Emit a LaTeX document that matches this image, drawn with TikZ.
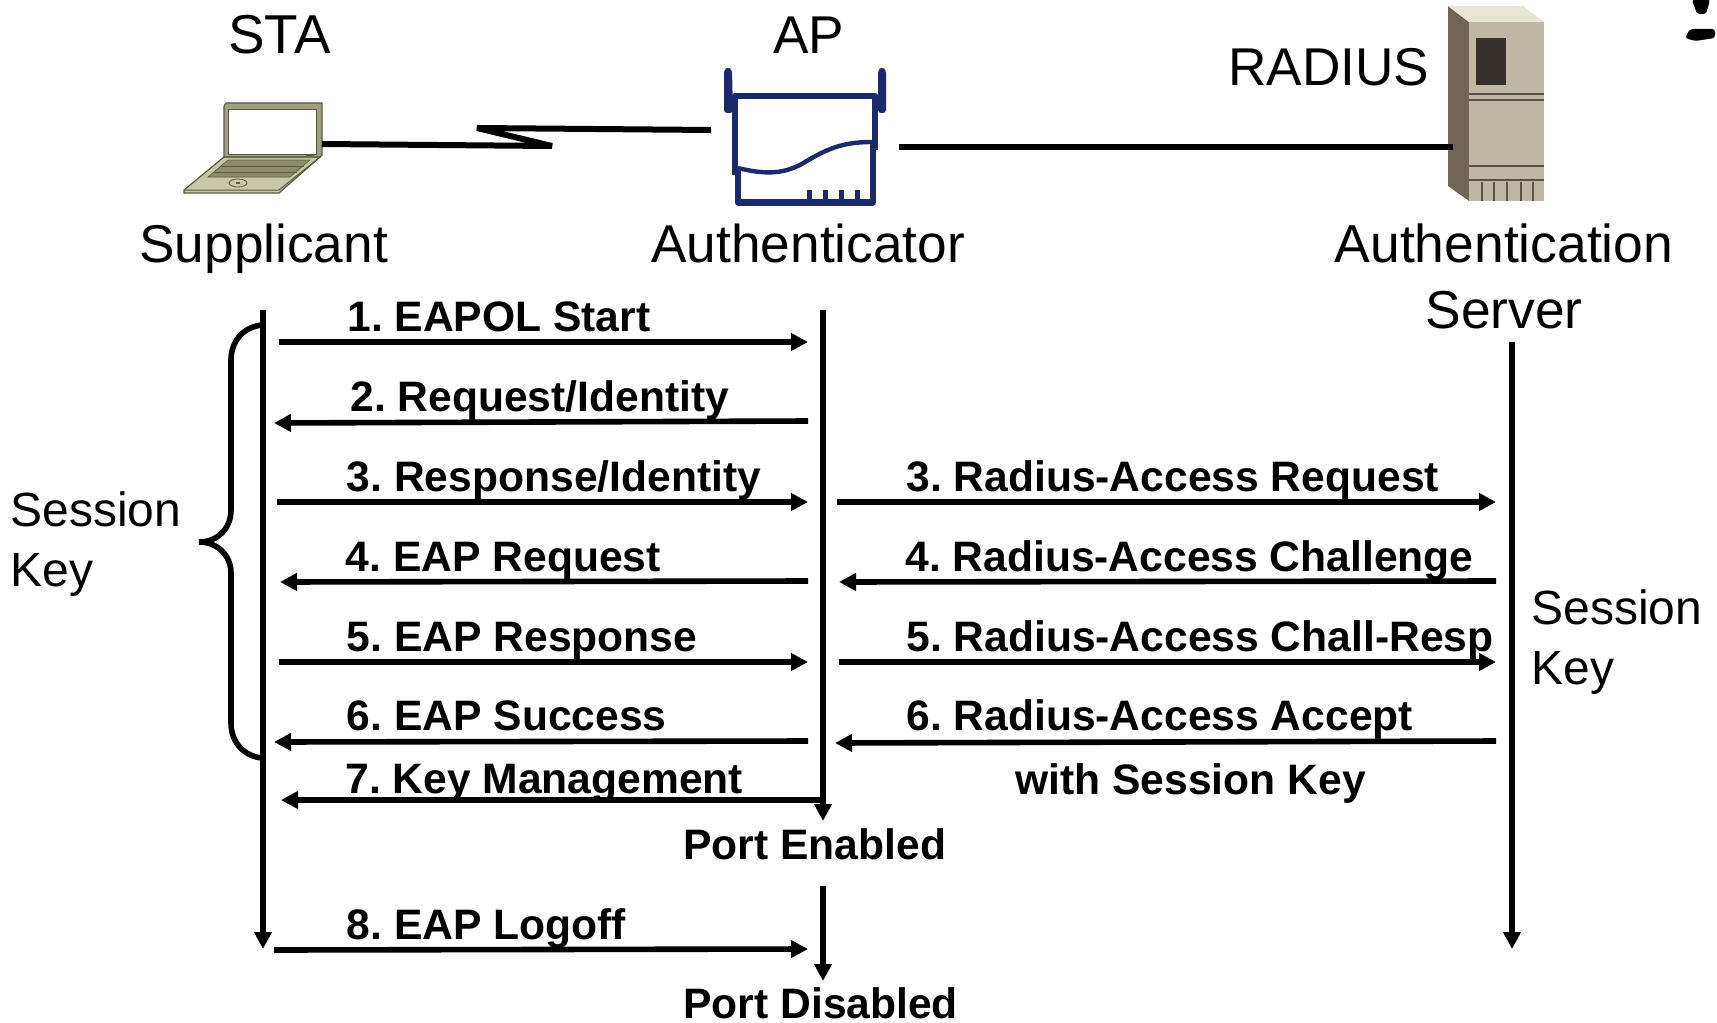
\documentclass[tikz,border=0pt]{standalone}
\usepackage{fontspec}
\setmainfont{Liberation Sans}
\usetikzlibrary{arrows.meta}
\definecolor{apblue}{HTML}{1B2A6B}
\definecolor{lapframe}{HTML}{A0A080}
\definecolor{lapbase}{HTML}{C8C8A8}
\definecolor{lapdark}{HTML}{5A5A40}
\definecolor{lapkeys}{HTML}{8C8C6C}
\definecolor{srvfront}{HTML}{BDB7A3}
\definecolor{srvside}{HTML}{6F6655}
\definecolor{srvtop}{HTML}{E8E6D0}
\definecolor{srvwin}{HTML}{35302A}
\definecolor{srvline}{HTML}{5A5245}
\tikzset{
  x=0.5pt,y=-0.5pt,
  toptext/.style={font=\fontsize{27.4pt}{30pt}\selectfont,inner sep=0pt,anchor=base west},
  bigtext/.style={font=\fontsize{26.6pt}{30pt}\selectfont,inner sep=0pt,anchor=base west},
  bigcenter/.style={font=\fontsize{26.7pt}{30pt}\selectfont,inner sep=0pt,anchor=base},
  sidetext/.style={font=\fontsize{24pt}{28pt}\selectfont,inner sep=0pt,anchor=base west},
  msg/.style={font=\fontsize{21.3pt}{25pt}\selectfont\bfseries\frenchspacing,inner sep=0pt,anchor=base west},
  wire/.style={line width=3pt,black},
  flow/.style={line width=2.8pt,black,-{Triangle[length=8.5pt,width=8.5pt]}},
  life/.style={line width=3pt,black,-{Triangle[length=8.5pt,width=8.5pt]}},
  brace/.style={line width=2.8pt,black},
  ap/.style={apblue,line width=3.2pt,line join=round}
}
\begin{document}
\begin{tikzpicture}
\useasboundingbox (0,0) rectangle (1717,1022);
% Titles
\node[toptext] (sta) at (228,54) {STA};
\node[bigtext] (aptxt) at (773,54) {AP};
\node[bigtext] (radius) at (1228,86) {RADIUS};
\node[bigtext] (supp) at (139,262) {Supplicant};
\node[bigtext] (auth) at (651,262) {Authenticator};
\node[bigcenter] (asrv1) at (1504,262) {Authentication};
\node[bigcenter] (asrv2) at (1504,328) {Server};
\node[sidetext] (skl1) at (10,526) {Session};
\node[sidetext] (skl2) at (10,586) {Key};
\node[sidetext] (skr1) at (1531,624) {Session};
\node[sidetext] (skr2) at (1531,684) {Key};
% Laptop
\fill[lapbase,draw=lapdark,line width=0.6pt] (184,190) -- (224,157) -- (320,157) -- (279,193) -- (184,193) -- cycle;
\fill[lapframe,draw=lapdark,line width=0.6pt] (224,157) -- (224,106) -- (226,103) -- (322,103) -- (322,155) -- (320,157) -- cycle;
\fill[white,draw=lapdark,line width=0.4pt] (228,109) rectangle (316,154);
\fill[lapkeys,draw=lapdark,line width=0.3pt] (208,177) -- (228,160) -- (310,160) -- (290,177) -- cycle;
\draw[lapdark,line width=0.5pt] (220,166.5) -- (304,166.5) (214,172) -- (297,172);
\draw[lapdark,line width=0.4pt] (238,183) ellipse (9 and 4);
\fill[lapdark] (236,182) rectangle (240,184);
\draw[lapdark,line width=0.8pt] (306,155) -- (314,155);
\draw[lapdark,line width=0.5pt] (184,190) -- (279,190) -- (320,157);
% AP icon
\fill[apblue,rounded corners=1.5pt] (724,113) -- (724,70) -- (728,67) -- (732,70) -- (733,113) -- cycle;
\fill[apblue,rounded corners=1.5pt] (878,113) -- (878,70) -- (882,67) -- (886,70) -- (886,113) -- cycle;
\draw[ap] (735,175) -- (735,96) -- (875,96) -- (875,150);
\draw[ap] (738,170) -- (738,202.5) -- (873,202.5) -- (873,142);
\foreach \tx in {809.5,825.5,841.5,857.5}{\draw[ap,line width=2.4pt] (\tx,190) -- (\tx,202);}
\draw[apblue,line width=2.2pt] (738,168) .. controls (770,176) and (785,172) .. (800,165) .. controls (825,150) and (840,142) .. (872,142);
% Server icon
\fill[srvside] (1448,6) -- (1469,22) -- (1469,201) -- (1448,186) -- cycle;
\fill[srvtop] (1448,6) -- (1523,6) -- (1544,22) -- (1469,22) -- cycle;
\fill[srvfront] (1469,22) rectangle (1544,201);
\fill[srvwin] (1476,38) rectangle (1506,85);
\draw[srvline,line width=0.6pt] (1469,94) -- (1544,94) (1469,100) -- (1544,100) (1469,166) -- (1544,166) (1469,180) -- (1544,180);
\foreach \vx in {1482,1494,1507,1521,1533}{\draw[srvline,line width=0.6pt] (\vx,182) -- (\vx,201);}
% Stray mark, top right
\fill[black,rounded corners=1pt] (1692,0) -- (1710,0) -- (1706,14) -- (1697,14) -- cycle;
\fill[black,rounded corners=1.5pt] (1690,29) -- (1715,29) -- (1715,38) -- (1695,41) -- (1685,38) -- cycle;
% Link endpoints
\coordinate (lapR) at (322,144);
\coordinate (zigA) at (552,146);
\coordinate (zigB) at (477,128);
\coordinate (apL) at (711,130);
\coordinate (apR) at (899,147);
\coordinate (srvL) at (1453,147);
\draw[wire,line join=miter,miter limit=3] (lapR) -- (zigA) -- (zigB) -- (apL);
\draw[wire] (apR) -- (srvL);
% Lifelines
\coordinate (staT) at (263,310); \coordinate (staB) at (263,949);
\coordinate (apT) at (823,310);  \coordinate (apB) at (823,821);
\coordinate (ap2T) at (823,886); \coordinate (ap2B) at (823,981);
\coordinate (srvT) at (1512,342); \coordinate (srvB) at (1512,949);
\draw[life] (staT) -- (staB);
\draw[life] (apT) -- (apB);
\draw[life] (ap2T) -- (ap2B);
\draw[life] (srvT) -- (srvB);
% Brace
\coordinate (brT) at (263,325);
\coordinate (brM) at (199,542);
\coordinate (brB) at (263,758);
\draw[brace] (brT) .. controls (245,326) and (231,340) .. (231,360) -- (231,510) .. controls (231,528) and (218,542) .. (brM) .. controls (218,542) and (231,556) .. (231,573) -- (231,723) .. controls (231,743) and (245,757) .. (brB);
% Left messages
\node[msg] (m1) at (347,331) {1. EAPOL Start};
\node[msg] (m2) at (350,411) {2. Request/Identity};
\node[msg] (m3) at (346.5,491) {3. Response/Identity};
\node[msg] (m4) at (345.5,571) {4. EAP Request};
\node[msg] (m5) at (346.5,651) {5. EAP Response};
\node[msg] (m6) at (346.5,730.5) {6. EAP Success};
\node[msg] (m7) at (345,793) {7. Key Management};
\node[msg] (m8) at (346.5,939) {8. EAP Logoff};
\node[msg] (pe) at (683,859) {Port Enabled};
\node[msg] (pd) at (683,1018) {Port Disabled};
% Right messages
\node[msg] (r3) at (906,491) {3. Radius-Access Request};
\node[msg] (r4) at (905,571) {4. Radius-Access Challenge};
\node[msg] (r5) at (906,651) {5. Radius-Access Chall-Resp};
\node[msg] (r6) at (906,730.5) {6. Radius-Access Accept};
\node[msg] (r7) at (1015,794.5) {with Session Key};
% Message arrow endpoints
\coordinate (a1s) at (279,342); \coordinate (a1e) at (808,342);
\coordinate (a2s) at (808,421); \coordinate (a2e) at (274,423);
\coordinate (a3s) at (277,502); \coordinate (a3e) at (808,502);
\coordinate (a4s) at (808,581); \coordinate (a4e) at (280,582);
\coordinate (a5s) at (279,662); \coordinate (a5e) at (808,662);
\coordinate (a6s) at (808,741); \coordinate (a6e) at (274,742);
\coordinate (a7s) at (825,800); \coordinate (a7e) at (281,800);
\coordinate (a8s) at (274,950); \coordinate (a8e) at (808,949);
\coordinate (b3s) at (837,502); \coordinate (b3e) at (1496,502);
\coordinate (b4s) at (1496,581); \coordinate (b4e) at (839,582);
\coordinate (b5s) at (839,662); \coordinate (b5e) at (1496,662);
\coordinate (b6s) at (1496,741); \coordinate (b6e) at (835,743);
\foreach \s/\e in {a1s/a1e,a2s/a2e,a3s/a3e,a4s/a4e,a5s/a5e,a6s/a6e,a7s/a7e,a8s/a8e,b3s/b3e,b4s/b4e,b5s/b5e,b6s/b6e}
  \draw[flow] (\s) -- (\e);
\end{tikzpicture}
\end{document}
